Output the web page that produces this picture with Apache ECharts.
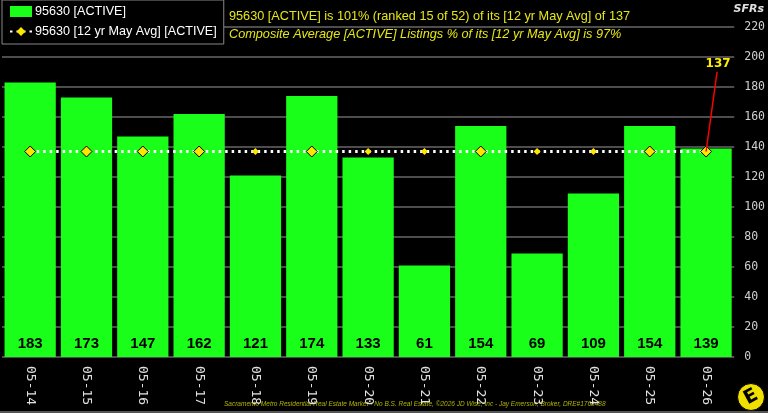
<!DOCTYPE html>
<html>
<head>
<meta charset="utf-8">
<script src="https://cdn.jsdelivr.net/npm/echarts@6/dist/echarts.min.js"></script>
<style>
  html, body { margin: 0; padding: 0; background: #000; }
  #chart { width: 768px; height: 413px; }
</style>
</head>
<body>
<div id="chart"></div>
<script>
// data
const categories = ['05-14', '05-15', '05-16', '05-17', '05-18', '05-19', '05-20', '05-21', '05-22', '05-23', '05-24', '05-25', '05-26']
const activeValues = [183, 173, 147, 162, 121, 174, 133, 61, 154, 69, 109, 154, 139]
const avgValues = [137, 137, 137, 137, 137, 137, 137, 137, 137, 137, 137, 137, 137]
const yTicks = { min: 0, max: 220, interval: 20 }
const avgLabel = 137

const YELLOW = '#e6e617'
const GREEN = '#19ff19'

const chart = echarts.init(document.getElementById('chart'))

// bigger bordered diamonds where the bar rises above the average
const avgData = avgValues.map((v, i) => {
  const big = activeValues[i] > v
  return {
    value: v,
    symbolSize: big ? 11 : 7,
    itemStyle: big ? { borderColor: '#000', borderWidth: 1 } : { borderWidth: 0 }
  }
})

const option = {
  backgroundColor: '#000',
  animation: false,
  grid: { left: 2, right: 31, top: 27, bottom: 56 },
  legend: {
    orient: 'vertical',
    left: 2,
    top: 0,
    padding: [5, 7, 6, 7],
    itemGap: 7,
    itemWidth: 22,
    itemHeight: 11,
    itemStyle: { borderWidth: 0 },
    backgroundColor: '#000',
    borderColor: '#888',
    borderWidth: 1,
    borderRadius: 0,
    z: 10,
    textStyle: { color: '#fff', fontFamily: 'Liberation Sans, Arial', fontSize: 12.6, padding: [0, 0, 0, -2] },
    data: [
      { name: '95630 [ACTIVE]', icon: 'rect' },
      { name: '95630 [12 yr May Avg] [ACTIVE]' }
    ]
  },
  xAxis: {
    type: 'category',
    data: categories,
    axisLine: { show: false },
    axisTick: { show: false },
    axisLabel: {
      rotate: -90,
      color: '#e0e0e0',
      fontFamily: 'DejaVu Sans Mono',
      fontSize: 13,
      margin: 9
    }
  },
  yAxis: {
    type: 'value',
    position: 'right',
    min: yTicks.min,
    max: yTicks.max,
    interval: yTicks.interval,
    axisLine: { show: false },
    axisTick: { show: false },
    axisLabel: {
      color: '#d0d0d0',
      fontFamily: 'DejaVu Sans Mono',
      fontSize: 11.5,
      margin: 10
    },
    splitLine: { lineStyle: { color: '#4d4d4d', width: 2 } }
  },
  series: [
    {
      name: '95630 [ACTIVE]',
      type: 'bar',
      data: activeValues,
      barCategoryGap: '9%',
      itemStyle: { color: GREEN },
      label: {
        show: true,
        position: 'insideBottom',
        distance: 6,
        color: '#000',
        fontFamily: 'Liberation Sans',
        fontWeight: 'bold',
        fontSize: 15
      },
      z: 2
    },
    {
      name: '95630 [12 yr May Avg] [ACTIVE]',
      type: 'line',
      data: avgData,
      symbol: 'diamond',
      symbolSize: 9,
      itemStyle: { color: '#ffe600', borderColor: '#000', borderWidth: 1 },
      lineStyle: { color: '#fff', width: 3, type: [2.5, 4] },
      z: 3
    }
  ],
  graphic: [
    {
      type: 'text', left: 229, top: 10,
      style: { text: '95630 [ACTIVE] is 101% (ranked 15 of 52) of its [12 yr May Avg] of 137', fill: YELLOW, font: '12.7px "Liberation Sans", Arial' }
    },
    {
      type: 'text', left: 229, top: 28,
      style: { text: 'Composite Average [ACTIVE] Listings % of its [12 yr May Avg] is 97%', fill: YELLOW, font: 'italic 12.7px "Liberation Sans", Arial' }
    },
    {
      type: 'text', right: 4, top: 4,
      style: { text: 'SFRs', fill: '#e0e0e0', font: 'italic bold 11px "DejaVu Sans"' }
    },
    {
      type: 'text', left: 224, top: 401,
      style: { text: 'Sacramento Metro Residential Real Estate Market - No B.S. Real Estate, \u00a92026 JD Wise, Inc - Jay Emerson, Broker, DRE#1768488', fill: '#b5b500', font: 'italic 6.5px "Liberation Sans", Arial' }
    },
    {
      type: 'rect', shape: { x: 0, y: 411, width: 768, height: 2 },
      style: { fill: '#555' }
    },
    {
      type: 'circle', shape: { cx: 751, cy: 397, r: 13.5 },
      style: { fill: '#f0e000', stroke: '#000', lineWidth: 1 }
    },
    {
      type: 'text', x: 751, y: 397, rotation: 0.5,
      style: { text: 'E', fill: '#000', font: 'bold 19px "DejaVu Sans"', align: 'center', verticalAlign: 'middle' }
    }
  ]
}

chart.setOption(option)

// callout line from the last average point up to its value label
const last = categories.length - 1
const from = chart.convertToPixel({ seriesIndex: 1 }, [last, avgValues[last]])
const to = chart.convertToPixel({ seriesIndex: 1 }, [last, 190])
chart.setOption({
  graphic: [
    {
      id: 'callout',
      type: 'line',
      shape: { x1: from[0], y1: from[1], x2: to[0] + 11, y2: to[1] },
      style: { stroke: '#ff0000', lineWidth: 1.5 },
      z: 10
    },
    {
      id: 'calloutLabel',
      type: 'text',
      x: to[0] + 12, y: to[1] - 2,
      style: { text: String(avgLabel), fill: '#ffee00', font: 'bold 12px "DejaVu Sans"', align: 'center', verticalAlign: 'bottom' },
      z: 10
    }
  ]
})
</script>
</body>
</html>
